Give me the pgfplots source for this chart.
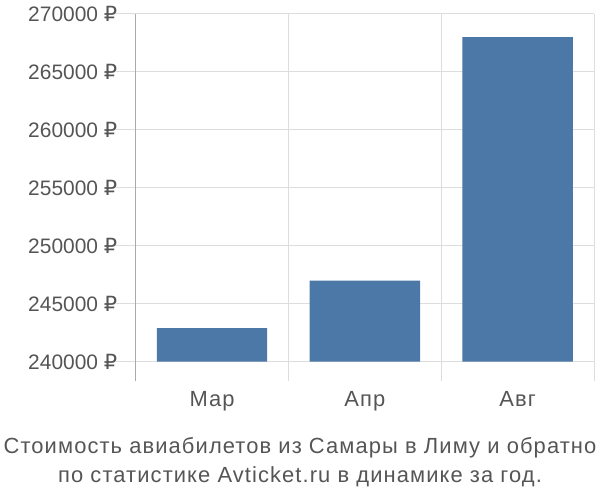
\documentclass[border=0pt]{standalone}
\usepackage{fontspec}
\setmainfont{Liberation Sans}
\newfontfamily\rub{DejaVu Sans}
\newfontfamily\spaced[LetterSpace=5]{Liberation Sans}
\usepackage{pgfplots}
\pgfplotsset{compat=1.18}
\definecolor{barblue}{HTML}{4C78A8}
\definecolor{gridgrey}{HTML}{DDDDDD}
\definecolor{axisgrey}{HTML}{AAAAAA}
\definecolor{textgrey}{HTML}{555555}
\newcommand{\R}{\ {\rub ₽}}

\begin{document}
\begin{tikzpicture}[x=1bp,y=1bp]
\path[use as bounding box] (-135.7,-119.3) rectangle (464.3,380.7);
\begin{axis}[
  at={(0,0)}, anchor=south west,
  scale only axis, width=458.3bp, height=366.7bp,
  xmin=-0.5, xmax=2.5,
  ymin=-1640, ymax=30000,
  y filter/.expression={y-240000},
  ybar, bar width=110.3bp,
  xtick={0,1,2}, xticklabels={Мар,Апр,Авг},
  minor xtick={0.5,1.5,2.5},
  ytick={0,5000,...,30000},
  yticklabels={240000\R,245000\R,250000\R,255000\R,260000\R,265000\R,270000\R},
  scaled y ticks=false,
  xmajorgrids=false, xminorgrids=true, ymajorgrids=true,
  major grid style={gridgrey, line width=1bp},
  minor grid style={gridgrey, line width=1bp},
  axis y line*=left, axis x line*=bottom,
  x axis line style={draw=none},
  y axis line style={axisgrey, line width=1.3bp},
  major x tick style={draw=none}, minor x tick style={draw=none},
  ytick style={gridgrey, line width=1bp},
  tick align=outside, major tick length=20bp,
  yticklabel style={font=\fontsize{21}{24}\selectfont, text=textgrey, xshift=5bp},
  xticklabel style={font=\spaced\fontsize{22}{24}\selectfont, text=textgrey, yshift=13bp},
]
\addplot[fill=barblue, draw=none] coordinates {(0,242900) (1,247000) (2,268000)};
\end{axis}
\node[text=textgrey, font=\spaced\fontsize{22}{24}\selectfont, anchor=base] at (164.3,-73.3) {Стоимость авиабилетов из Самары в Лиму и обратно};
\node[text=textgrey, font=\spaced\fontsize{22}{24}\selectfont, anchor=base] at (164.3,-101.3) {по статистике Avticket.ru в динамике за год.};
\end{tikzpicture}
\end{document}
